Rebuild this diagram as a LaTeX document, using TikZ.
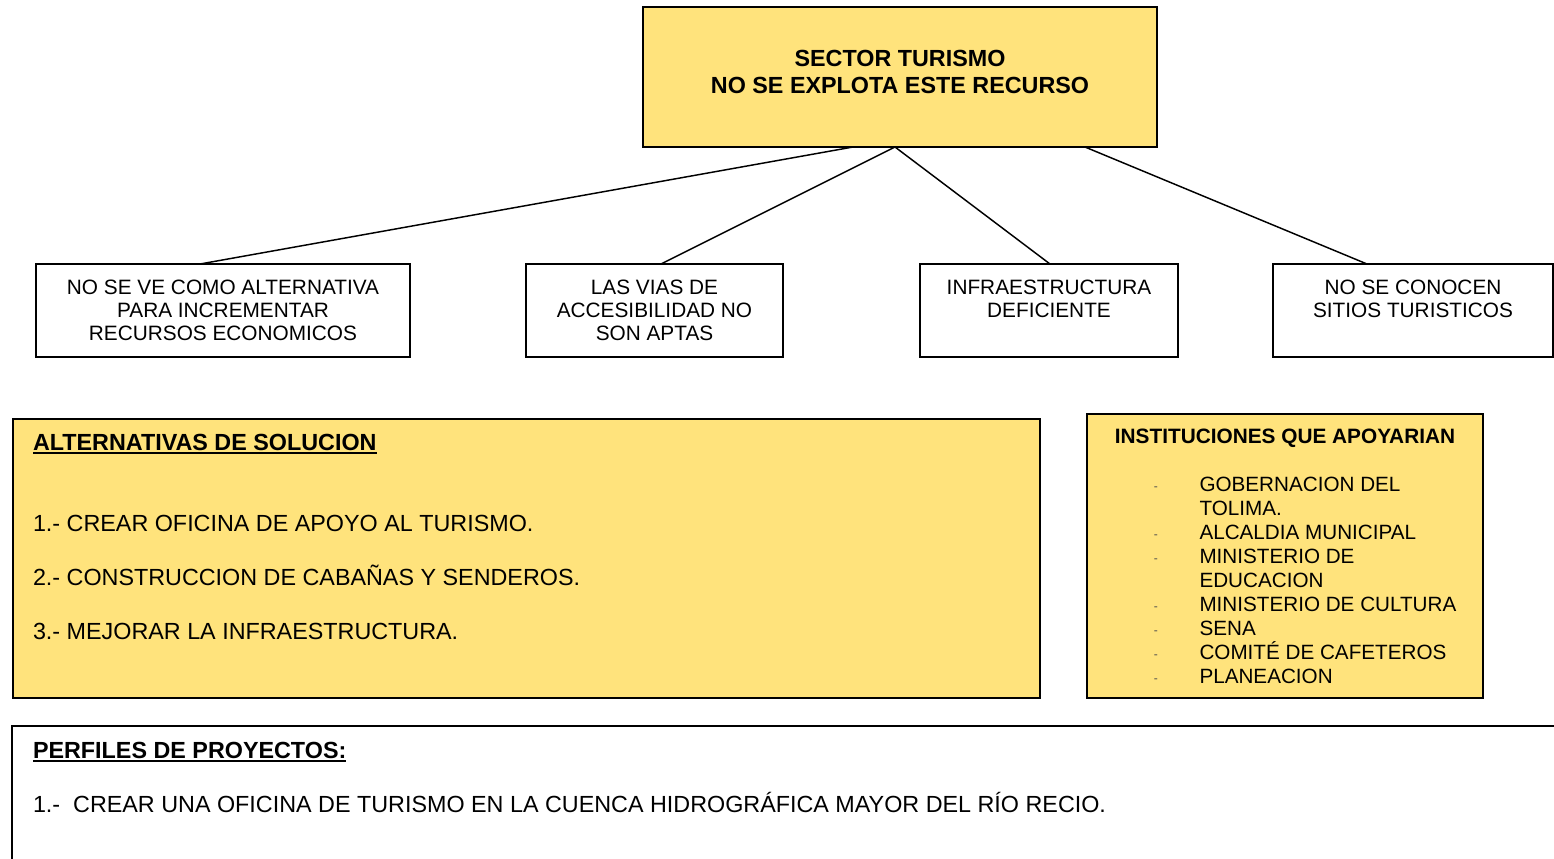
\documentclass[tikz,border=0pt]{standalone}
\usepackage{fontspec}
\setmainfont{Liberation Sans}
\usetikzlibrary{fit,calc}
\definecolor{boxyellow}{RGB}{255,227,124}
\newcommand{\thickul}[1]{\setbox0\hbox{#1}\rlap{\rule[-2.6pt]{\wd0}{1.4pt}}\box0}
\begin{document}
\begin{tikzpicture}[x=0.75pt,y=-0.75pt,
  ybox/.style={draw=black, fill=boxyellow, line width=1.1pt, inner sep=0pt, outer sep=0pt},
  wbox/.style={draw=black, fill=white, line width=1.1pt, inner sep=0pt, outer sep=0pt},
  link/.style={draw=black, line width=1.1pt},
  bigfont/.style={font=\fontsize{17.5}{20.25}\selectfont},
  midfont/.style={font=\fontsize{15.6}{17.25}\selectfont},
  listfont/.style={font=\fontsize{15.5}{18}\selectfont},
  txt/.style={inner sep=0pt, outer sep=0pt},
]
\useasboundingbox (0,0) rectangle (1554,858);

% top box
\node[ybox, line width=1.4pt, fit={(643,7) (1157,147)}] (top) {};
\node[txt, bigfont, align=center, anchor=north] (toptxt) at ($(top.north)+(0,43.3)$)
  {\bfseries SECTOR TURISMO\\ \bfseries NO SE EXPLOTA ESTE RECURSO};

% child boxes
\node[wbox, fit={(36,264) (410,357)}] (c1) {};
\node[wbox, fit={(526,264) (783,357)}] (c2) {};
\node[wbox, fit={(920,264) (1178,357)}] (c3) {};
\node[wbox, fit={(1273,264) (1553,357)}] (c4) {};

\node[txt, midfont, align=center, anchor=north] (t1) at ($(c1.north)+(0,16.1)$)
  {NO SE VE COMO ALTERNATIVA\\ PARA INCREMENTAR\\ RECURSOS ECONOMICOS};
\node[txt, midfont, align=center, anchor=north] (t2) at ($(c2.north)+(0,16.1)$)
  {LAS VIAS DE\\ ACCESIBILIDAD NO\\ SON APTAS};
\node[txt, midfont, align=center, anchor=north] (t3) at ($(c3.north)+(0,16.1)$)
  {INFRAESTRUCTURA\\ DEFICIENTE};
\node[txt, midfont, align=center, anchor=north] (t4) at ($(c4.north)+(0,16.1)$)
  {NO SE CONOCEN\\ SITIOS TURISTICOS};

% connectors
\draw[link] ($(top.south west)+(210,0)$) -- ($(c1.north west)+(164,0)$);
\draw[link] ($(top.south west)+(252,0)$) -- ($(c2.north west)+(135,0)$);
\draw[link] ($(top.south west)+(252,0)$) -- ($(c3.north west)+(130,0)$);
\draw[link] ($(top.south west)+(442,0)$) -- ($(c4.north west)+(94,0)$);

% alternativas
\node[ybox, fit={(13,419) (1040,698)}] (alt) {};
\node[txt, bigfont, anchor=base west] (alttitle) at (33,450.5)
  {\thickul{\bfseries ALTERNATIVAS DE SOLUCION}};
\node[txt, bigfont, anchor=base west] (alt1) at (33,531.5) {1.- CREAR OFICINA DE APOYO AL TURISMO.};
\node[txt, bigfont, anchor=base west] (alt2) at (33,585.5) {2.- CONSTRUCCION DE CABAÑAS Y SENDEROS.};
\node[txt, bigfont, anchor=base west] (alt3) at (33,639.5) {3.- MEJORAR LA INFRAESTRUCTURA.};

% instituciones
\newcommand{\dashitem}{\makebox[35.25pt][l]{\hspace{1pt}\raisebox{1.2pt}{\fontsize{9}{9}\selectfont\color{gray!60!black}-}}}
\newcommand{\noitem}{\hspace*{35.25pt}}
\node[ybox, fit={(1087,414) (1483,698)}] (inst) {};
\node[txt, midfont, anchor=base] (insttitle) at (1285,443.5) {\bfseries INSTITUCIONES QUE APOYARIAN};
\node[txt, listfont, align=left, anchor=north west] (instlist) at (1152.5,477.2)
  {\dashitem GOBERNACION DEL\\
   \noitem TOLIMA.\\
   \dashitem ALCALDIA MUNICIPAL\\
   \dashitem MINISTERIO DE\\
   \noitem EDUCACION\\
   \dashitem MINISTERIO DE CULTURA\\
   \dashitem SENA\\
   \dashitem COMITÉ DE CAFETEROS\\
   \dashitem PLANEACION};

% perfiles
\node[wbox, fit={(12,726) (1600,900)}] (perf) {};
\node[txt, bigfont, anchor=base west] (perftitle) at (33,758.5)
  {\thickul{\bfseries PERFILES DE PROYECTOS:}};
\node[txt, bigfont, anchor=base west] (perf1) at (33,812.5)
  {1.-\ \ CREAR UNA OFICINA DE TURISMO EN LA CUENCA HIDROGRÁFICA MAYOR DEL RÍO RECIO.};
\end{tikzpicture}
\end{document}
